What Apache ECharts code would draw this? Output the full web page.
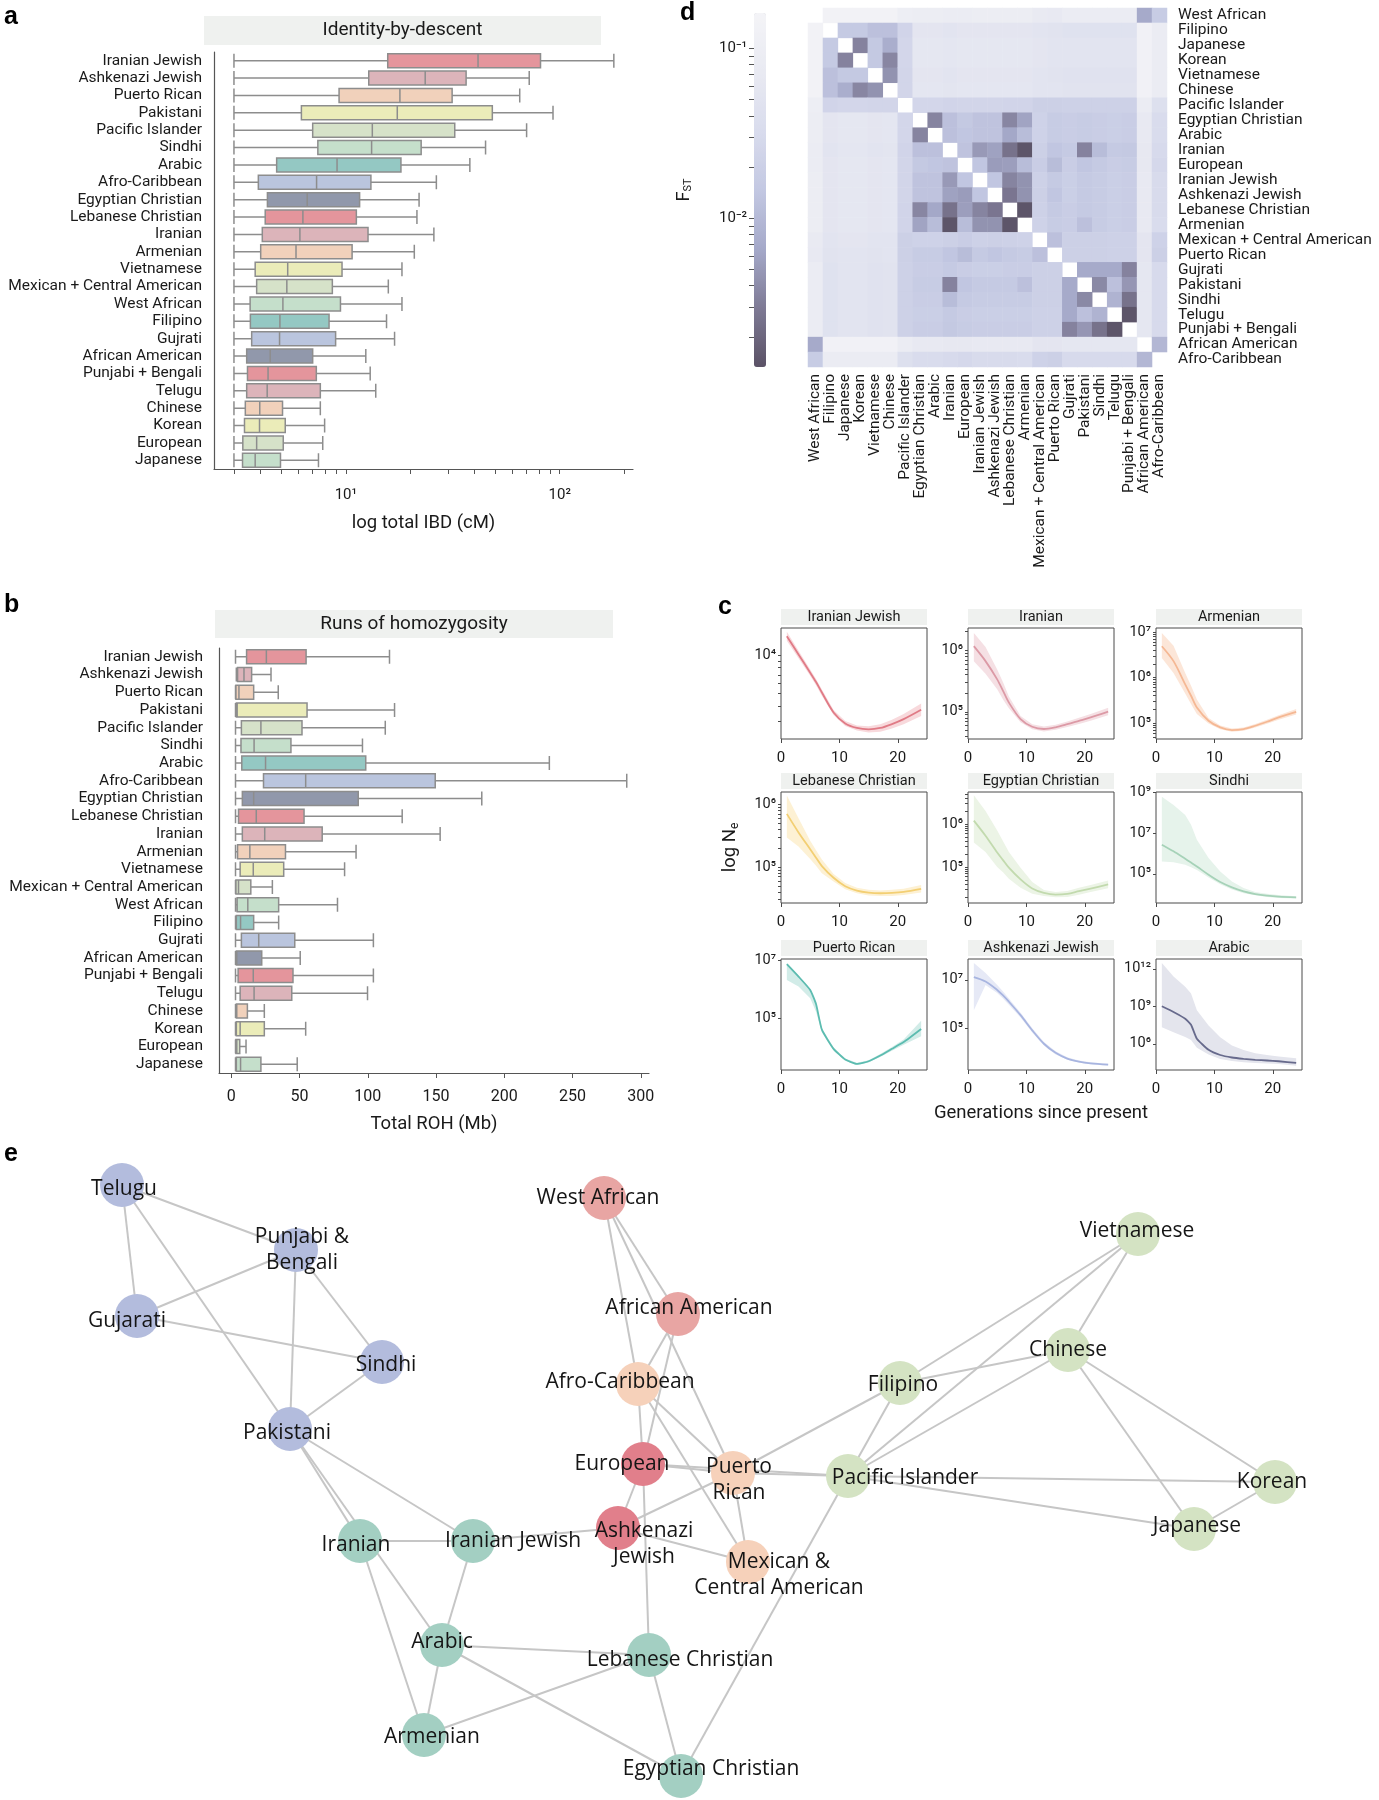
<!DOCTYPE html>
<html>
<head>
<meta charset="utf-8">
<title>IBD, ROH, Ne and FST by group</title>
<style>
  html, body { margin: 0; padding: 0; background: #fff; }
  #main { width: 1379px; height: 1800px; }
</style>
<script src="https://cdn.jsdelivr.net/npm/echarts@6.0.0/dist/echarts.min.js"></script>
</head>
<body>
<div id="main"></div>
<script>
// ---------- a / b : box plots, [min, q1, median, q3, max] ----------
var boxGroups = ['Iranian Jewish', 'Ashkenazi Jewish', 'Puerto Rican', 'Pakistani', 'Pacific Islander', 'Sindhi',
  'Arabic', 'Afro-Caribbean', 'Egyptian Christian', 'Lebanese Christian', 'Iranian', 'Armenian', 'Vietnamese',
  'Mexican + Central American', 'West African', 'Filipino', 'Gujrati', 'African American', 'Punjabi + Bengali',
  'Telugu', 'Chinese', 'Korean', 'European', 'Japanese'];
var boxColors = ['#e4959c', '#dcb4ba', '#f1d1bb', '#ebecb9', '#d6e2c9', '#c5dfcb', '#94c8c3', '#bac5de', '#9198ab'];

var ibdStats = [
  [3, 15.7, 41.5, 81.3, 179], [3, 12.8, 23.5, 36.5, 72], [3, 9.3, 17.9, 31.4, 65], [3, 6.2, 17.4, 48.4, 93],
  [3, 7.0, 13.3, 32.3, 70], [3, 7.4, 13.2, 22.5, 45], [3, 4.75, 9.1, 18.1, 38], [3, 3.9, 7.3, 13.1, 26.5],
  [3, 4.3, 6.6, 11.6, 22], [3, 4.2, 6.3, 11.2, 21.5], [3, 4.07, 6.1, 12.7, 25.8], [3, 4.0, 5.85, 10.7, 20.9],
  [3, 3.77, 5.35, 9.6, 18.3], [3, 3.83, 5.3, 8.65, 15.8], [3, 3.57, 5.08, 9.44, 18.3], [3, 3.58, 4.92, 8.35, 15.5],
  [3, 3.63, 4.9, 8.96, 16.9], [3, 3.44, 4.43, 7.0, 12.4], [3, 3.47, 4.33, 7.28, 13.0], [3, 3.44, 4.29, 7.6, 13.8],
  [3, 3.39, 3.96, 5.06, 7.6], [3, 3.36, 3.95, 5.21, 7.96], [3, 3.3, 3.83, 5.1, 7.8], [3, 3.29, 3.77, 4.95, 7.45]
];
var rohStats = [
  [3.1, 11.2, 25.7, 54.8, 115.9], [3.7, 4.6, 9.3, 14.9, 29.1], [3.1, 3.4, 5.6, 16.4, 34.4], [3.1, 3.7, 4.3, 55.5, 119.6],
  [3.1, 7.4, 21.7, 51.8, 112.8], [3.1, 7.1, 16.7, 43.7, 96.1], [3.1, 7.7, 25.1, 98.5, 233], [3.1, 23.6, 54.5, 149.4, 289.7],
  [3.1, 8.1, 16.4, 93.0, 183.5], [3.1, 5.3, 18.3, 53.3, 125.2], [3.1, 8.1, 24.5, 66.6, 153], [3.1, 4.6, 13.6, 39.7, 91.4],
  [3.1, 6.5, 16.1, 38.4, 83], [3.1, 3.4, 5.3, 14.3, 30.1], [3.1, 4.3, 12.1, 34.7, 77.8], [3.1, 3.7, 6.8, 16.4, 34.7],
  [3.1, 7.4, 20.1, 46.5, 104.1], [3.1, 3.7, 4.0, 22.3, 50.5], [3.1, 5.0, 16.1, 45.2, 104.1], [3.1, 6.5, 16.7, 44.3, 99.8],
  [3.1, 3.7, 4.0, 11.8, 24.2], [3.1, 3.7, 6.5, 24.2, 54.5], [3.1, 3.4, 4.0, 6.2, 10.8], [3.1, 3.7, 6.8, 21.7, 48.3]
];
var ibdTicks = [3, 4, 5, 6, 7, 8, 9, 10, 20, 30, 40, 50, 60, 70, 80, 90, 100, 200];
var ibdLabels = [10, 100];
var rohTicks = [0, 50, 100, 150, 200, 250, 300];

// ---------- c : effective population size (log10 Ne) by generation ----------
var gens = [1, 3, 5, 6, 7, 9, 11, 13, 15, 17, 19, 21, 24];
var neTitles = ['Iranian Jewish', 'Iranian', 'Armenian', 'Lebanese Christian', 'Egyptian Christian', 'Sindhi',
  'Puerto Rican', 'Ashkenazi Jewish', 'Arabic'];
var neMean = [
  [4.152, 4.008, 3.864, 3.79, 3.707, 3.55, 3.463, 3.427, 3.416, 3.427, 3.458, 3.497, 3.571],
  [6.065, 5.823, 5.527, 5.34, 5.151, 4.882, 4.758, 4.722, 4.75, 4.80, 4.855, 4.91, 5.005],
  [6.687, 6.36, 5.851, 5.6, 5.342, 5.051, 4.905, 4.847, 4.869, 4.942, 5.029, 5.124, 5.247],
  [5.85, 5.554, 5.285, 5.15, 5.016, 4.828, 4.694, 4.624, 4.591, 4.581, 4.586, 4.602, 4.651],
  [6.078, 5.727, 5.336, 5.16, 4.984, 4.711, 4.5, 4.398, 4.359, 4.375, 4.438, 4.5, 4.594],
  [6.429, 6.102, 5.735, 5.55, 5.359, 4.951, 4.592, 4.331, 4.135, 4.004, 3.922, 3.873, 3.841],
  [6.871, 6.439, 5.971, 5.48, 4.591, 3.924, 3.55, 3.398, 3.491, 3.69, 3.924, 4.158, 4.614],
  [7.112, 6.93, 6.58, 6.35, 6.091, 5.531, 4.902, 4.343, 3.965, 3.727, 3.601, 3.531, 3.476],
  [9.0, 8.543, 8.005, 7.52, 6.40, 5.516, 5.1, 4.9, 4.79, 4.71, 4.66, 4.6, 4.47]
];
var neLow = [
  [4.116, 3.978, 3.839, 3.765, 3.682, 3.53, 3.443, 3.407, 3.391, 3.397, 3.423, 3.457, 3.521],
  [5.82, 5.62, 5.366, 5.2, 5.06, 4.832, 4.718, 4.682, 4.71, 4.755, 4.805, 4.855, 4.945],
  [6.43, 6.1, 5.65, 5.42, 5.2, 4.991, 4.865, 4.812, 4.834, 4.902, 4.984, 5.074, 5.187],
  [5.473, 5.33, 5.13, 5.02, 4.9, 4.768, 4.644, 4.579, 4.546, 4.536, 4.536, 4.552, 4.591],
  [5.57, 5.35, 5.0, 4.88, 4.73, 4.52, 4.38, 4.328, 4.299, 4.305, 4.358, 4.42, 4.504],
  [5.6, 5.57, 5.44, 5.32, 5.18, 4.82, 4.49, 4.23, 4.04, 3.94, 3.86, 3.81, 3.78],
  [6.32, 6.09, 5.68, 5.21, 4.5, 3.88, 3.51, 3.36, 3.45, 3.64, 3.86, 4.07, 4.36],
  [5.74, 6.79, 6.45, 6.22, 5.97, 5.43, 4.81, 4.27, 3.9, 3.68, 3.56, 3.49, 3.44],
  [7.33, 6.93, 6.54, 6.3, 5.68, 5.14, 4.79, 4.62, 4.53, 4.47, 4.42, 4.38, 4.25]
];
var neHigh = [
  [4.188, 4.038, 3.889, 3.815, 3.732, 3.57, 3.483, 3.447, 3.441, 3.457, 3.493, 3.537, 3.621],
  [6.28, 6.05, 5.688, 5.48, 5.25, 4.932, 4.798, 4.762, 4.79, 4.845, 4.905, 4.965, 5.065],
  [6.98, 6.7, 6.1, 5.82, 5.52, 5.111, 4.945, 4.882, 4.904, 4.982, 5.074, 5.174, 5.307],
  [6.145, 5.78, 5.42, 5.27, 5.12, 4.888, 4.744, 4.669, 4.636, 4.626, 4.636, 4.652, 4.711],
  [6.664, 6.3, 5.85, 5.6, 5.35, 4.98, 4.65, 4.468, 4.419, 4.445, 4.518, 4.58, 4.684],
  [8.79, 8.38, 7.89, 7.41, 6.67, 5.78, 5.11, 4.62, 4.3, 4.1, 4.02, 3.96, 3.89],
  [6.9, 6.47, 6.0, 5.52, 4.64, 3.97, 3.59, 3.44, 3.53, 3.74, 3.99, 4.25, 4.9],
  [7.7, 7.28, 6.79, 6.52, 6.22, 5.63, 4.99, 4.42, 4.03, 3.78, 3.65, 3.57, 3.51],
  [12.46, 11.38, 10.56, 10.02, 8.68, 7.47, 6.53, 5.86, 5.5, 5.25, 5.1, 4.98, 4.85]
];
var neYMin = [3.34, 4.56, 4.651, 4.425, 4.164, 3.563, 3.187, 3.252, 3.9];
var neYMax = [4.217, 6.36, 7.087, 6.2, 6.742, 9.02, 7.05, 7.867, 12.78];
var neYLabels = [[1e4], [1e5, 1e6], [1e5, 1e6, 1e7], [1e5, 1e6], [1e5, 1e6], [1e5, 1e7, 1e9], [1e5, 1e7], [1e5, 1e7], [1e6, 1e9, 1e12]];
var neMinorTicks = [true, true, true, true, true, false, false, false, false];
var neLineColors = ['#e07b86', '#dc9aa6', '#f5b894', '#f3cf73', '#c2daae', '#a6d2b8', '#5cbcb0', '#a8b5e0', '#676a8c'];
var neBandColors = ['#f8d9dc', '#f5e0e4', '#fce6d8', '#fdf1d4', '#ecf4e6', '#e6f3eb', '#d2ece8', '#e6e9f6', '#e4e5ed'];

// ---------- d : pairwise FST (lower triangle, same order for rows and columns) ----------
var fstNames = ['West African', 'Filipino', 'Japanese', 'Korean', 'Vietnamese', 'Chinese', 'Pacific Islander',
  'Egyptian Christian', 'Arabic', 'Iranian', 'European', 'Iranian Jewish', 'Ashkenazi Jewish', 'Lebanese Christian',
  'Armenian', 'Mexican + Central American', 'Puerto Rican', 'Gujrati', 'Pakistani', 'Sindhi', 'Telugu',
  'Punjabi + Bengali', 'African American', 'Afro-Caribbean'];
var fstLower = [
  [],
  [0.14],
  [0.14, 0.016],
  [0.14, 0.016, 0.0034],
  [0.14, 0.012, 0.015, 0.015],
  [0.14, 0.012, 0.0075, 0.0036, 0.0045],
  [0.10, 0.024, 0.026, 0.026, 0.025, 0.025],
  [0.09, 0.055, 0.06, 0.06, 0.055, 0.057, 0.026],
  [0.09, 0.055, 0.06, 0.06, 0.055, 0.057, 0.026, 0.0035],
  [0.085, 0.052, 0.057, 0.057, 0.052, 0.054, 0.024, 0.012, 0.012],
  [0.085, 0.055, 0.06, 0.06, 0.055, 0.057, 0.025, 0.015, 0.014, 0.013],
  [0.09, 0.055, 0.06, 0.06, 0.055, 0.057, 0.025, 0.013, 0.013, 0.005, 0.014],
  [0.09, 0.055, 0.06, 0.06, 0.055, 0.057, 0.025, 0.013, 0.013, 0.0058, 0.0053, 0.014],
  [0.09, 0.055, 0.06, 0.06, 0.055, 0.057, 0.024, 0.0036, 0.0065, 0.0025, 0.0055, 0.0035, 0.0027],
  [0.09, 0.055, 0.06, 0.06, 0.055, 0.057, 0.024, 0.006, 0.011, 0.0014, 0.011, 0.0045, 0.0045, 0.0014],
  [0.075, 0.05, 0.055, 0.055, 0.05, 0.052, 0.02, 0.022, 0.022, 0.02, 0.018, 0.021, 0.02, 0.021, 0.022],
  [0.07, 0.048, 0.052, 0.052, 0.048, 0.05, 0.02, 0.017, 0.017, 0.014, 0.011, 0.016, 0.014, 0.016, 0.017, 0.012],
  [0.085, 0.045, 0.05, 0.05, 0.046, 0.048, 0.021, 0.018, 0.018, 0.016, 0.018, 0.019, 0.019, 0.018, 0.018, 0.02, 0.02],
  [0.085, 0.045, 0.05, 0.05, 0.046, 0.048, 0.021, 0.017, 0.017, 0.0034, 0.014, 0.016, 0.016, 0.016, 0.012, 0.02, 0.02, 0.0068],
  [0.085, 0.045, 0.05, 0.05, 0.046, 0.048, 0.021, 0.018, 0.018, 0.011, 0.016, 0.017, 0.017, 0.017, 0.017, 0.02, 0.02, 0.0068, 0.0038],
  [0.085, 0.045, 0.05, 0.05, 0.046, 0.048, 0.021, 0.019, 0.019, 0.016, 0.018, 0.019, 0.019, 0.019, 0.019, 0.021, 0.021, 0.0068, 0.012, 0.0085],
  [0.085, 0.045, 0.05, 0.05, 0.046, 0.048, 0.021, 0.018, 0.018, 0.015, 0.017, 0.018, 0.018, 0.018, 0.018, 0.021, 0.021, 0.0034, 0.0048, 0.0025, 0.0014],
  [0.0068, 0.13, 0.13, 0.13, 0.13, 0.13, 0.085, 0.07, 0.07, 0.065, 0.065, 0.068, 0.068, 0.068, 0.068, 0.055, 0.055, 0.06, 0.06, 0.06, 0.06, 0.06],
  [0.017, 0.085, 0.085, 0.085, 0.085, 0.085, 0.04, 0.033, 0.033, 0.03, 0.028, 0.031, 0.031, 0.031, 0.032, 0.022, 0.02, 0.03, 0.03, 0.03, 0.03, 0.03, 0.0095]
];
var fstRange = [0.00133, 0.161];
var fstTicks = [0.002, 0.003, 0.004, 0.005, 0.006, 0.007, 0.008, 0.009, 0.01, 0.02, 0.03, 0.04, 0.05, 0.06, 0.07, 0.08, 0.09, 0.1];
var fstLabels = [0.01, 0.1];
var fstColors = ['#5b5266', '#7e7a95', '#a5a9c9', '#c3c8e2', '#d9dced', '#e9eaf2', '#f4f4f7'];

// ---------- e : network (layout positions) ----------
var netNames = ['Telugu', 'Punjabi & Bengali', 'Gujarati', 'Sindhi', 'Pakistani', 'Iranian', 'Iranian Jewish', 'Arabic',
  'Armenian', 'West African', 'African American', 'Afro-Caribbean', 'European', 'Puerto Rican', 'Ashkenazi Jewish',
  'Mexican & Central American', 'Lebanese Christian', 'Egyptian Christian', 'Filipino', 'Pacific Islander', 'Chinese',
  'Vietnamese', 'Korean', 'Japanese'];
var netX = [122, 296, 137, 382, 290, 360, 473, 442, 424, 604, 678, 638, 643, 733, 618, 748, 649, 681, 900, 848, 1068, 1138, 1275, 1194];
var netY = [1185, 1250, 1316, 1362, 1429, 1541, 1541, 1645, 1735, 1198, 1314, 1384, 1464, 1473, 1528, 1562, 1655, 1776, 1383, 1476, 1350, 1234, 1482, 1529];
var netGroup = ['sa', 'sa', 'sa', 'sa', 'sa', 'me', 'me', 'me', 'me', 'af', 'af', 'am', 'eu', 'am', 'eu', 'am', 'me', 'me',
  'ea', 'ea', 'ea', 'ea', 'ea', 'ea'];
var netEdges = [
  ['Telugu', 'Punjabi & Bengali'], ['Telugu', 'Gujarati'], ['Telugu', 'Pakistani'], ['Punjabi & Bengali', 'Gujarati'],
  ['Punjabi & Bengali', 'Pakistani'], ['Punjabi & Bengali', 'Sindhi'], ['Gujarati', 'Sindhi'], ['Sindhi', 'Pakistani'],
  ['Pakistani', 'Iranian'], ['Pakistani', 'Arabic'], ['Pakistani', 'Iranian Jewish'], ['Iranian', 'Iranian Jewish'],
  ['Iranian', 'Armenian'], ['Iranian Jewish', 'Arabic'], ['Iranian Jewish', 'Ashkenazi Jewish'], ['Arabic', 'Armenian'],
  ['Arabic', 'Lebanese Christian'], ['Arabic', 'Egyptian Christian'], ['Armenian', 'Lebanese Christian'],
  ['West African', 'African American'], ['West African', 'Afro-Caribbean'], ['West African', 'Puerto Rican'],
  ['African American', 'Afro-Caribbean'], ['African American', 'European'], ['Afro-Caribbean', 'European'],
  ['Afro-Caribbean', 'Puerto Rican'], ['Afro-Caribbean', 'Mexican & Central American'], ['European', 'Puerto Rican'],
  ['European', 'Pacific Islander'], ['European', 'Ashkenazi Jewish'], ['European', 'Lebanese Christian'],
  ['Ashkenazi Jewish', 'Puerto Rican'], ['Ashkenazi Jewish', 'Mexican & Central American'],
  ['Puerto Rican', 'Mexican & Central American'], ['Puerto Rican', 'Pacific Islander'], ['Puerto Rican', 'Filipino'],
  ['Lebanese Christian', 'Egyptian Christian'], ['Egyptian Christian', 'Pacific Islander'], ['Filipino', 'Pacific Islander'],
  ['Filipino', 'Chinese'], ['Filipino', 'Vietnamese'], ['Pacific Islander', 'Vietnamese'], ['Pacific Islander', 'Chinese'],
  ['Pacific Islander', 'Korean'], ['Pacific Islander', 'Japanese'], ['Chinese', 'Vietnamese'], ['Chinese', 'Korean'],
  ['Chinese', 'Japanese'], ['Korean', 'Japanese']
];

// ---------- styles ----------
var FONT = 'Roboto, "Noto Sans", "DejaVu Sans", sans-serif';
var NET_FONT = '"Open Sans", Roboto, sans-serif';
var AXIS = '#555';
var groupColors = { sa: '#b3bcdd', me: '#a3cfc2', af: '#e8a5a3', am: '#f6d1ba', eu: '#e17f8b', ea: '#d4e3c3' };
var netLabelText = { 'Punjabi & Bengali': 'Punjabi &\nBengali', 'Puerto Rican': 'Puerto\nRican',
  'Ashkenazi Jewish': 'Ashkenazi\nJewish', 'Mexican & Central American': 'Mexican &\nCentral American' };
var netLabelOffset = { 'Telugu': [2, 4], 'Punjabi & Bengali': [6, 0], 'Gujarati': [-10, 5], 'Sindhi': [4, 3],
  'Pakistani': [-3, 4], 'Iranian': [-4, 4], 'Iranian Jewish': [40, 0], 'Arabic': [0, -3], 'Armenian': [8, 2],
  'West African': [-6, 0], 'African American': [11, -6], 'Afro-Caribbean': [-18, -2], 'European': [-21, 0],
  'Puerto Rican': [6, 7], 'Ashkenazi Jewish': [26, 16], 'Mexican & Central American': [31, 13],
  'Lebanese Christian': [31, 5], 'Egyptian Christian': [30, -7], 'Filipino': [3, 2], 'Pacific Islander': [57, 2],
  'Chinese': [0, 0], 'Vietnamese': [-1, -3], 'Korean': [-3, 0], 'Japanese': [3, -3] };

function supNum(n) {
  var m = { '-': '\u207b', '0': '\u2070', '1': '\u00b9', '2': '\u00b2', '3': '\u00b3', '4': '\u2074',
    '5': '\u2075', '6': '\u2076', '7': '\u2077', '8': '\u2078', '9': '\u2079' };
  return String(n).split('').map(function (c) { return m[c]; }).join('');
}
function powLabel(v) { return '10' + supNum(Math.round(Math.log10(v))); }
function logTicks(lo, hi) {
  var out = [];
  for (var e = Math.floor(lo); e <= Math.ceil(hi); e++) {
    for (var k = 1; k < 10; k++) {
      var v = k * Math.pow(10, e);
      if (Math.log10(v) >= lo && Math.log10(v) <= hi) out.push(v);
    }
  }
  return out;
}

var chart = echarts.init(document.getElementById('main'));
var grids = [], xAxes = [], yAxes = [], series = [], elements = [];

function txt(x, y, text, size, extra) {
  var st = { text: text, fontSize: size, fontFamily: FONT, fill: '#1a1a1a', align: 'center', verticalAlign: 'middle',
    textAlign: 'center', textVerticalAlign: 'middle' };
  for (var k in (extra || {})) st[k] = extra[k];
  elements.push({ type: 'text', x: x, y: y, style: st, z: 10 });
}
function strip(x, y, w, h, text, size) {
  elements.push({ type: 'rect', shape: { x: x, y: y, width: w, height: h }, style: { fill: '#eff1ef' }, z: 1 });
  txt(x + w / 2, y + h / 2, text, size);
}
function letter(t, x, y) {
  txt(x, y, t, 25, { fontWeight: 'bold', fontFamily: '"Liberation Sans", Arial, sans-serif', fill: '#000',
    align: 'left', textAlign: 'left' });
}
function catAxis(gi, margin) {
  return { gridIndex: gi, type: 'category', data: boxGroups, inverse: true,
    axisLine: { show: true, onZero: false, lineStyle: { color: AXIS, width: 1.2 } },
    axisTick: { alignWithLabel: true, length: 6, lineStyle: { color: AXIS } },
    axisLabel: { interval: 0, fontSize: 15.5, color: '#1a1a1a', fontFamily: FONT, margin: margin },
    splitLine: { show: false } };
}
function boxSeries(gi, stats) {
  return { type: 'boxplot', xAxisIndex: gi, yAxisIndex: gi, silent: true, boxWidth: [14, 14],
    data: stats.map(function (s, i) {
      return { value: s, itemStyle: { color: boxColors[i % boxColors.length], borderColor: '#8d8d8d', borderWidth: 1.5 } };
    }) };
}

// ---- a ----
letter('a', 4, 17);
strip(204, 16, 397, 29, 'Identity-by-descent', 19);
grids.push({ left: 214, top: 52, width: 419, height: 417 });
xAxes.push({ gridIndex: 0, type: 'log', min: 2.42, max: 220,
  axisLine: { show: true, onZero: false, lineStyle: { color: AXIS, width: 1.2 } },
  axisTick: { show: true, customValues: ibdTicks, length: 5, lineStyle: { color: AXIS } },
  axisLabel: { customValues: ibdLabels, formatter: powLabel, fontSize: 15, color: '#1a1a1a', fontFamily: FONT, margin: 19 },
  splitLine: { show: false },
  name: 'log total IBD (cM)', nameLocation: 'middle', nameGap: 45,
  nameTextStyle: { fontSize: 18.5, color: '#1a1a1a', fontFamily: FONT } });
yAxes.push(catAxis(0, 12));
series.push(boxSeries(0, ibdStats));

// ---- b ----
letter('b', 4, 605);
strip(215, 610, 398, 28, 'Runs of homozygosity', 19);
grids.push({ left: 219, top: 648, width: 430, height: 425 });
xAxes.push({ gridIndex: 1, type: 'value', min: -9, max: 306,
  axisLine: { show: true, onZero: false, lineStyle: { color: AXIS, width: 1.2 } },
  axisTick: { show: true, customValues: rohTicks, length: 5, lineStyle: { color: AXIS } },
  axisLabel: { customValues: rohTicks, fontSize: 16, color: '#1a1a1a', fontFamily: FONT, margin: 16 },
  splitLine: { show: false },
  name: 'Total ROH (Mb)', nameLocation: 'middle', nameGap: 42,
  nameTextStyle: { fontSize: 18.5, color: '#1a1a1a', fontFamily: FONT } });
yAxes.push(catAxis(1, 16));
series.push(boxSeries(1, rohStats));

// ---- c ----
letter('c', 718, 607);
var cLeft = [781, 968, 1156], cTop = [628, 792, 959];
neTitles.forEach(function (title, k) {
  var gi = 2 + k, col = k % 3, row = Math.floor(k / 3);
  grids.push({ left: cLeft[col], top: cTop[row], width: 146, height: 111, show: true,
    borderColor: '#4a4a4a', borderWidth: 1, backgroundColor: 'transparent' });
  strip(cLeft[col], cTop[row] - 19, 146, 16, title, 14.5);
  var xa = { gridIndex: gi, type: 'value', min: 0, max: 25, axisLine: { show: false, onZero: false }, splitLine: { show: false },
    axisTick: { customValues: [0, 10, 20], length: 4, lineStyle: { color: '#4a4a4a' } },
    axisLabel: { customValues: [0, 10, 20], fontSize: 15, color: '#1a1a1a', fontFamily: FONT, margin: 12 } };
  if (k === 7) {
    xa.name = 'Generations since present'; xa.nameLocation = 'middle'; xa.nameGap = 34;
    xa.nameTextStyle = { fontSize: 18.5, color: '#1a1a1a', fontFamily: FONT };
  }
  xAxes.push(xa);
  var ya = { gridIndex: gi, type: 'log', min: Math.pow(10, neYMin[k]), max: Math.pow(10, neYMax[k]),
    axisLine: { show: false, onZero: false }, splitLine: { show: false },
    axisTick: { customValues: neMinorTicks[k] ? logTicks(neYMin[k], neYMax[k]) : neYLabels[k], length: 3,
      lineStyle: { color: '#4a4a4a' } },
    axisLabel: { customValues: neYLabels[k], formatter: powLabel, fontSize: 14.5, color: '#1a1a1a', fontFamily: FONT, margin: 5 } };
  if (k === 3) {
    ya.name = 'log N{s|e}'; ya.nameLocation = 'middle'; ya.nameGap = 40; ya.nameRotate = 90;
    ya.nameTextStyle = { fontSize: 18.5, color: '#1a1a1a', fontFamily: FONT,
      rich: { s: { fontSize: 12, fontFamily: FONT, color: '#1a1a1a', padding: [10, 0, 0, 0] } } };
  }
  yAxes.push(ya);
  series.push({ type: 'custom', xAxisIndex: gi, yAxisIndex: gi, silent: true, clip: true, z: 1,
    data: gens.map(function (g, i) { return [g, Math.pow(10, neMean[k][i])]; }),
    renderItem: function (params, api) {
      if (params.dataIndex !== 0) return null;
      var pts = [];
      gens.forEach(function (g, i) { pts.push(api.coord([g, Math.pow(10, neHigh[k][i])])); });
      for (var i = gens.length - 1; i >= 0; i--) pts.push(api.coord([gens[i], Math.pow(10, neLow[k][i])]));
      return { type: 'polygon', shape: { points: pts }, style: { fill: neBandColors[k] } };
    } });
  series.push({ type: 'line', xAxisIndex: gi, yAxisIndex: gi, silent: true, showSymbol: false,
    smooth: (k === 6 || k === 8) ? 0.15 : 0.3, z: 2,
    data: gens.map(function (g, i) { return [g, Math.pow(10, neMean[k][i])]; }),
    lineStyle: { color: neLineColors[k], width: 1.8 } });
});

// ---- d ----
letter('d', 680, 13);
grids.push({ left: 808, top: 8, width: 359, height: 359 });
xAxes.push({ gridIndex: 11, type: 'category', data: fstNames, axisLine: { show: false }, axisTick: { show: false },
  splitLine: { show: false },
  axisLabel: { rotate: 90, interval: 0, fontSize: 15.5, color: '#1a1a1a', fontFamily: FONT, margin: 7 } });
yAxes.push({ gridIndex: 11, type: 'category', data: fstNames, inverse: true, position: 'right',
  axisLine: { show: false }, splitLine: { show: false },
  axisTick: { alignWithLabel: true, length: 5, lineStyle: { color: '#777' } },
  axisLabel: { interval: 0, fontSize: 15.5, color: '#1a1a1a', fontFamily: FONT, margin: 11 } });
var heatData = [];
fstLower.forEach(function (row, i) {
  row.forEach(function (v, j) {
    heatData.push([j, i, Math.log10(v)]);
    heatData.push([i, j, Math.log10(v)]);
  });
});
var heatIndex = series.length;
series.push({ type: 'heatmap', xAxisIndex: 11, yAxisIndex: 11, silent: true, data: heatData });

// colour bar axis
grids.push({ left: 754, top: 13, width: 12, height: 354 });
xAxes.push({ gridIndex: 12, type: 'value', show: false, min: 0, max: 1 });
yAxes.push({ gridIndex: 12, type: 'log', min: fstRange[0], max: fstRange[1], position: 'left',
  axisLine: { show: false }, splitLine: { show: false },
  axisTick: { customValues: fstTicks, length: 5, lineStyle: { color: '#555' } },
  axisLabel: { customValues: fstLabels, formatter: powLabel, fontSize: 15, color: '#1a1a1a', fontFamily: FONT, margin: 7 },
  name: '{f|F}{s|ST}', nameLocation: 'middle', nameGap: 60, nameRotate: 90,
  nameTextStyle: { rich: { f: { fontSize: 18, fontFamily: FONT, color: '#1a1a1a' },
    s: { fontSize: 11, fontFamily: FONT, color: '#1a1a1a', padding: [9, 0, 0, 0] } } } });

// ---- e ----
letter('e', 4, 1154);
var minX = Math.min.apply(null, netX), maxX = Math.max.apply(null, netX);
var minY = Math.min.apply(null, netY), maxY = Math.max.apply(null, netY);
series.push({ type: 'graph', layout: 'none', coordinateSystem: 'view', left: minX, top: minY,
  width: maxX - minX, height: maxY - minY, roam: false, silent: true, symbol: 'circle', symbolSize: 44,
  data: netNames.map(function (n, i) {
    return { name: n, x: netX[i], y: netY[i], itemStyle: { color: groupColors[netGroup[i]] },
      label: { offset: netLabelOffset[n] || [0, 0] } };
  }),
  links: netEdges.map(function (e) { return { source: e[0], target: e[1] }; }),
  lineStyle: { color: '#c6c6c6', width: 2, opacity: 1, curveness: 0 },
  label: { show: true, position: 'inside', fontSize: 21, lineHeight: 26, color: '#151515', fontFamily: NET_FONT,
    formatter: function (p) { return netLabelText[p.name] || p.name; } },
  emphasis: { disabled: true } });

chart.setOption({
  animation: false,
  backgroundColor: '#ffffff',
  textStyle: { fontFamily: FONT },
  grid: grids,
  xAxis: xAxes,
  yAxis: yAxes,
  visualMap: [{ type: 'continuous', seriesIndex: heatIndex, dimension: 2,
    min: Math.log10(fstRange[0]), max: Math.log10(fstRange[1]),
    inRange: { color: fstColors }, calculable: false, hoverLink: false, realtime: false,
    orient: 'vertical', left: 754, top: 13, itemWidth: 12, itemHeight: 354, padding: 0, text: null }],
  graphic: { elements: elements },
  series: series
});
</script>
</body>
</html>
